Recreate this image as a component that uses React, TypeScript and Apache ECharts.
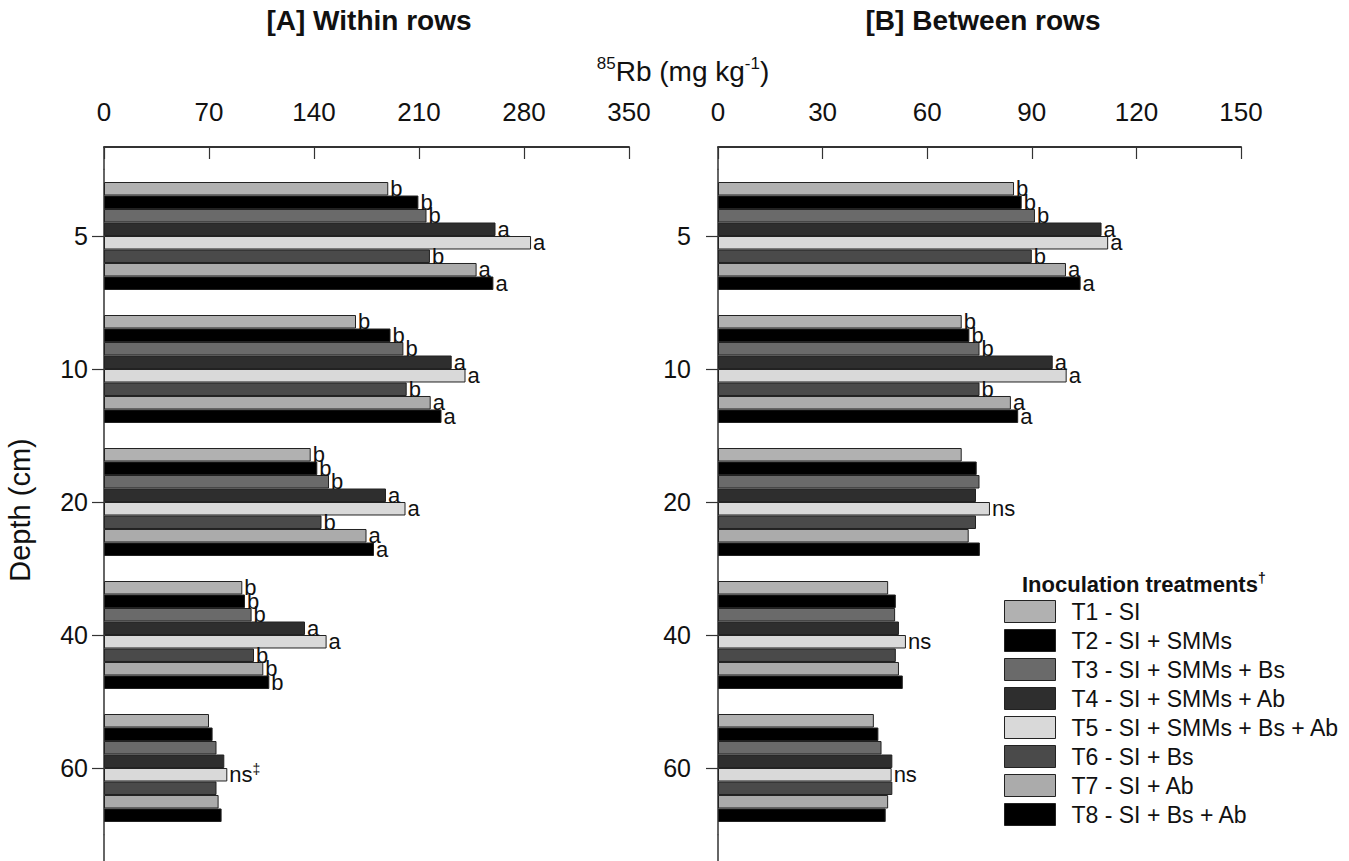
import React, { useEffect, useRef } from 'react';
import * as echarts from 'echarts';

const FONT = '"Liberation Sans", Arial, Helvetica, sans-serif';

const depths = ['5', '10', '20', '40', '60'];
const treatments = [
  'T1 - SI',
  'T2 - SI + SMMs',
  'T3 - SI + SMMs + Bs',
  'T4 - SI + SMMs + Ab',
  'T5 - SI + SMMs + Bs + Ab',
  'T6 - SI + Bs',
  'T7 - SI + Ab',
  'T8 - SI + Bs + Ab',
];
const colors = ['#b1b1b1', '#000000', '#6a6a6a', '#2e2e2e', '#d9d9d9', '#4a4a4a', '#ababab', '#000000'];

// [A] Within rows: values per depth, T1..T8
const within5 = [189.5, 209.6, 215, 261, 284.7, 217.3, 248.4, 259.6];
const within10 = [168, 191, 199.6, 231.8, 241, 201.8, 217.8, 225];
const within20 = [137.8, 142.2, 150, 188, 201, 145, 175, 180];
const within40 = [92.2, 94, 98.4, 134, 148.4, 100, 106.2, 110.2];
const within60 = [70, 72.4, 75, 80.2, 82.2, 75, 76.4, 78.4];

// [B] Between rows: values per depth, T1..T8
const between5 = [84.9, 87.1, 90.9, 110, 111.9, 90, 99.8, 104];
const between10 = [69.9, 72.1, 75, 96, 100, 75, 84, 86.1];
const between20 = [69.9, 74.2, 75, 74, 78, 74, 71.9, 75.1];
const between40 = [48.8, 51, 50.8, 51.9, 53.9, 51, 51.9, 53];
const between60 = [44.7, 46, 46.9, 50, 49.8, 50, 48.8, 48.1];

// significance letters per depth, T1..T8
const withinLetters5 = ['b', 'b', 'b', 'a', 'a', 'b', 'a', 'a'];
const withinLetters10 = ['b', 'b', 'b', 'a', 'a', 'b', 'a', 'a'];
const withinLetters20 = ['b', 'b', 'b', 'a', 'a', 'b', 'a', 'a'];
const withinLetters40 = ['b', 'b', 'b', 'a', 'a', 'b', 'b', 'b'];
const withinLetters60 = ['', '', '', '', 'ns{s|‡}', '', '', ''];
const betweenLetters5 = ['b', 'b', 'b', 'a', 'a', 'b', 'a', 'a'];
const betweenLetters10 = ['b', 'b', 'b', 'a', 'a', 'b', 'a', 'a'];
const betweenLetters20 = ['', '', '', '', 'ns', '', '', ''];
const betweenLetters40 = ['', '', '', '', 'ns', '', '', ''];
const betweenLetters60 = ['', '', '', '', 'ns', '', '', ''];

const withinRows = [within5, within10, within20, within40, within60];
const betweenRows = [between5, between10, between20, between40, between60];
const withinLetters = [withinLetters5, withinLetters10, withinLetters20, withinLetters40, withinLetters60];
const betweenLetters = [betweenLetters5, betweenLetters10, betweenLetters20, betweenLetters40, betweenLetters60];

const AXIS_COLOR = '#333';

function makeSeries(panel: number, rows: number[][], letters: string[][]) {
  return treatments.map((name, i) => ({
    type: 'bar',
    name,
    xAxisIndex: panel,
    yAxisIndex: panel,
    barGap: '0%',
    barCategoryGap: '18.8%',
    data: rows.map((r) => r[i]),
    itemStyle: { color: colors[i], borderColor: '#222', borderWidth: 1 },
    label: {
      show: true,
      position: 'right',
      distance: 2,
      fontFamily: FONT,
      fontSize: 22,
      color: '#111',
      formatter: (p: any) => letters[p.dataIndex][i],
      rich: { s: { fontFamily: FONT, fontSize: 14, color: '#111', padding: [0, 0, 12, 0] } },
    },
  }));
}

function xAxisFor(panel: number, max: number, interval: number) {
  return {
    gridIndex: panel,
    type: 'value',
    position: 'top',
    offset: 22.5,
    min: 0,
    max,
    interval,
    splitLine: { show: false },
    axisLine: { show: true, lineStyle: { color: AXIS_COLOR, width: 2 } },
    axisTick: { show: true, inside: true, length: 12, lineStyle: { color: AXIS_COLOR, width: 1.2 } },
    axisLabel: { fontFamily: FONT, fontSize: 26, color: '#111', margin: 22 },
  };
}

function yAxisFor(panel: number, margin: number) {
  return {
    gridIndex: panel,
    type: 'category',
    data: depths,
    inverse: true,
    axisLine: { show: true, lineStyle: { color: AXIS_COLOR, width: 1.5 } },
    axisTick: { show: true, alignWithLabel: true, length: 12, lineStyle: { color: AXIS_COLOR, width: 1.2 } },
    axisLabel: { fontFamily: FONT, fontSize: 25, color: '#111', margin },
    ...(panel === 0
      ? {
          name: 'Depth (cm)',
          nameLocation: 'middle',
          nameGap: 70,
          nameRotate: 90,
          nameTextStyle: { fontFamily: FONT, fontSize: 29, color: '#111', padding: [0, 16, 0, 0] },
        }
      : {}),
  };
}

function axisExt(x: number) {
  const style = { stroke: AXIS_COLOR, lineWidth: 1.5 };
  return [
    { type: 'line', shape: { x1: x, y1: 147, x2: x, y2: 169.5 }, style },
    { type: 'line', shape: { x1: x, y1: 834.5, x2: x, y2: 861 }, style },
  ];
}

export default function App() {
  const ref = useRef<HTMLDivElement>(null);
  useEffect(() => {
    if (!ref.current) return;
    const chart = echarts.init(ref.current, null, { renderer: 'svg' });
    const option: any = {
      animation: false,
      backgroundColor: '#fff',
      textStyle: { fontFamily: FONT },
      title: [
        {
          text: '[A] Within rows',
          left: 364,
          top: 1,
          textAlign: 'center',
          textStyle: { fontFamily: FONT, fontSize: 28, fontWeight: 'bold', color: '#111' },
        },
        {
          text: '[B] Between rows',
          left: 978,
          top: 1,
          textAlign: 'center',
          textStyle: { fontFamily: FONT, fontSize: 28, fontWeight: 'bold', color: '#111' },
        },
        {
          text: '{s|85}{m|Rb (mg kg}{s|-1}{m|)}',
          left: 678,
          top: 50,
          textAlign: 'center',
          textStyle: {
            fontWeight: 'normal',
            rich: {
              m: { fontFamily: FONT, fontSize: 28, fontWeight: 'normal', color: '#111' },
              s: { fontFamily: FONT, fontSize: 17, fontWeight: 'normal', color: '#111', padding: [0, 0, 16, 0] },
            },
          },
        },
        {
          text: '{m|Inoculation treatments}{s|†}',
          left: 1017,
          top: 566,
          textStyle: {
            rich: {
              m: { fontFamily: FONT, fontSize: 22, fontWeight: 'bold', color: '#111' },
              s: { fontFamily: FONT, fontSize: 14, fontWeight: 'bold', color: '#111', padding: [0, 0, 12, 0] },
            },
          },
        },
      ],
      legend: {
        orient: 'vertical',
        left: 1004,
        top: 600,
        padding: 0,
        icon: 'rect',
        itemWidth: 51,
        itemHeight: 22,
        itemGap: 6,
        data: treatments,
        itemStyle: { borderColor: '#222', borderWidth: 1 },
        textStyle: { fontFamily: FONT, fontSize: 23, color: '#111', lineHeight: 22, padding: [0, 0, 0, 11] },
      },
      graphic: [...axisExt(104), ...axisExt(718)],
      grid: [
        { left: 104, top: 169.5, width: 525, height: 665 },
        { left: 718, top: 169.5, width: 523, height: 665 },
      ],
      xAxis: [xAxisFor(0, 350, 70), xAxisFor(1, 150, 30)],
      yAxis: [yAxisFor(0, 16), yAxisFor(1, 27)],
      series: [...makeSeries(0, withinRows, withinLetters), ...makeSeries(1, betweenRows, betweenLetters)],
    };
    chart.setOption(option);
    return () => chart.dispose();
  }, []);
  return (
    <div
      ref={ref}
      style={{ position: 'fixed', left: 0, top: 0, width: 1349, height: 861, background: '#fff' }}
    />
  );
}
